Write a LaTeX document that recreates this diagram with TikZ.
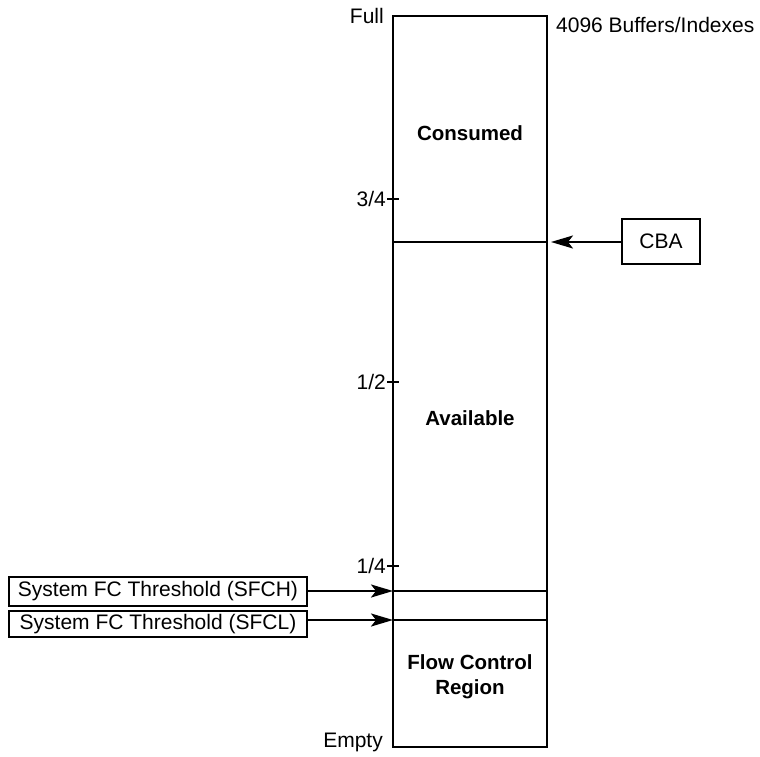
\documentclass[tikz,border=0pt]{standalone}
\usepackage{fontspec}
\setmainfont{Liberation Sans}
\usetikzlibrary{arrows.meta}
\begin{document}
\begin{tikzpicture}[x=1pt,y=-1pt,
  lbl/.style={font=\fontsize{21}{24}\selectfont, inner sep=0pt},
  bold/.style={font=\fontsize{20.5}{25}\selectfont\bfseries, inner sep=0pt, align=center},
  srcbox/.style={draw, line width=2pt, font=\fontsize{21}{24}\selectfont, inner sep=0pt, anchor=west},
  arr/.style={line width=2.2pt, -{Stealth[length=22pt,width=13pt,inset=5pt]}},
  thin/.style={line width=1.2pt}]
\useasboundingbox (0,0) rectangle (760,757);
% main rectangle
\draw[line width=2.2pt] (393,16) rectangle (547,747);
% divider lines
\coordinate (cbaL) at (393,242);
\coordinate (cbaR) at (547,242);
\draw[thin] (cbaL) -- (cbaR);
\coordinate (shL) at (393,591);
\coordinate (shR) at (547,591);
\draw[thin] (shL) -- (shR);
\coordinate (slL) at (393,620);
\coordinate (slR) at (547,620);
\draw[thin] (slL) -- (slR);
% ticks
\coordinate (t34) at (393,199);
\coordinate (t12) at (393,382);
\coordinate (t14) at (393,566);
\foreach \t in {t34,t12,t14} \draw[thin] ([xshift=-6pt]\t) -- ([xshift=6pt]\t);
% tick labels
\node[lbl, anchor=east] (full) at (384,16) {Full};
\node[lbl, anchor=east] (empty) at (383,742) {Empty};
\node[lbl, anchor=east] (q34) at (386,199) {3/4};
\node[lbl, anchor=east] (q12) at (386,382) {1/2};
\node[lbl, anchor=east] (q14) at (386,566) {1/4};
\node[lbl, anchor=west] (buf) at (556,25) {4096 Buffers/Indexes};
% region labels
\node[bold] (cons) at (470,133) {Consumed};
\node[bold] (avail) at (470,418) {Available};
\node[bold] (fcr) at (470,677) {Flow Control\\Region};
% CBA
\node[draw, line width=2pt, font=\fontsize{21}{24}\selectfont, minimum width=78pt, minimum height=45pt, inner sep=0pt] (cba) at (661,241.5) {CBA};
\draw[arr] (cba.west |- cbaR) -- ([xshift=4pt]cbaR);
% SFCH / SFCL
\node[srcbox, minimum width=298pt, minimum height=29pt] (sfch) at (8,591.5) {System FC Threshold (SFCH)};
\node[srcbox, minimum width=298pt, minimum height=26pt] (sfcl) at (8,624) {System FC Threshold (SFCL)};
\draw[arr] (sfch.east |- shL) -- (shL);
\draw[arr] (sfcl.east |- slL) -- (slL);
\end{tikzpicture}
\end{document}
